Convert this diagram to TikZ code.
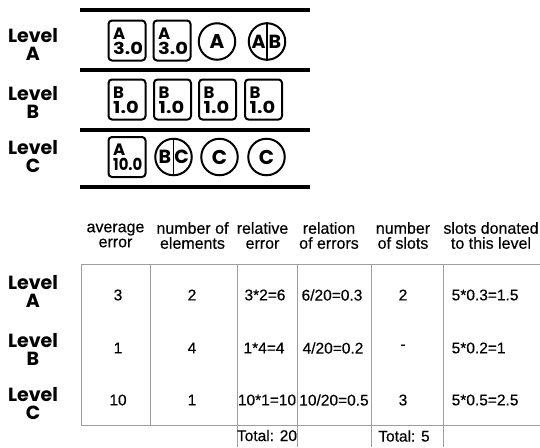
\documentclass[tikz,border=0pt]{standalone}
\usepackage{fontspec}
\setmainfont{Liberation Sans}[FakeBold=0.35]
\newfontfamily\lvfont{Poppins}
\usetikzlibrary{calc}
\tikzset{
  lvl/.style={font=\lvfont\bfseries\fontsize{19}{18}\selectfont, align=center, inner sep=0pt},
  shelf/.style={line width=4pt, draw=black},
  elbox/.style={draw=black, line width=2pt, rounded corners=3.5pt, minimum width=37pt, minimum height=40pt, inner sep=0pt},
  eltxt/.style={font=\lvfont\bfseries\fontsize{16.5}{16}\selectfont, inner sep=0pt, anchor=base west},
  elcirc/.style={draw=black, line width=2pt, circle, minimum size=36.5pt, inner sep=0pt, font=\lvfont\bfseries\fontsize{20}{20}\selectfont},
  half/.style={font=\lvfont\bfseries\fontsize{19}{19}\selectfont, inner sep=0pt},
  grid/.style={draw=black!38, line width=1pt},
  hd/.style={font=\fontsize{16}{15}\selectfont, align=center, inner sep=0pt},
  val/.style={font=\fontsize{15.5}{15.5}\selectfont, inner sep=0pt}
}
% element box with its level letter and error value (y grows downwards)
\newcommand\elem[4]{%
  \node[elbox] (#1) at (#2) {};
  \node[eltxt] (#1l) at ($(#1.north west)+(5.5,19.5)$) {#3};
  \node[eltxt] (#1v) at ($(#1.north west)+(5.5,34.5)$) {#4};
}
\begin{document}
\begin{tikzpicture}[x=1pt, y=-1pt]
\useasboundingbox (0,0) rectangle (540,447);

% ---------- shelves ----------
\coordinate (s1l) at (80,10);  \coordinate (s1r) at (310,10);
\coordinate (s2l) at (80,70);  \coordinate (s2r) at (310,70);
\coordinate (s3l) at (80,130); \coordinate (s3r) at (310,130);
\coordinate (s4l) at (80,187); \coordinate (s4r) at (310,187);
\draw[shelf] (s1l) -- (s1r);
\draw[shelf] (s2l) -- (s2r);
\draw[shelf] (s3l) -- (s3r);
\draw[shelf] (s4l) -- (s4r);

\node[lvl] (la) at (33,44) {Level\\A};
\node[lvl] (lb) at (33,102) {Level\\B};
\node[lvl] (lc) at (33,157) {Level\\C};

% ---------- level A ----------
\elem{a1}{127,40.5}{A}{\scalebox{1.18}[1]{3.0}}
\elem{a2}{172,40.5}{A}{\scalebox{1.18}[1]{3.0}}
\node[elcirc] (a3) at (217,41.5) {A};
\node[elcirc] (a4) at (267,41.5) {};
\draw[line width=1.6pt] (a4.north) -- (a4.south);
\node[half] (a4l) at ($(a4.center)+(-8.5,0)$) {A};
\node[half] (a4r) at ($(a4.center)+(8,0)$) {B};

% ---------- level B ----------
\elem{b1}{127,99.5}{B}{\scalebox{1.18}[1]{1.0}}
\elem{b2}{172.5,99.5}{B}{\scalebox{1.18}[1]{1.0}}
\elem{b3}{217.5,99.5}{B}{\scalebox{1.18}[1]{1.0}}
\elem{b4}{263.5,99.5}{B}{\scalebox{1.18}[1]{1.0}}

% ---------- level C ----------
\elem{c1}{127,157}{A}{\scalebox{0.9}[1]{10.0}}
\node[elcirc] (c2) at (173.5,157) {};
\draw[line width=1.6pt] (c2.north) -- (c2.south);
\node[half] (c2l) at ($(c2.center)+(-8.5,0)$) {B};
\node[half] (c2r) at ($(c2.center)+(8,0)$) {C};
\node[elcirc] (c3) at (219.5,157) {C};
\node[elcirc] (c4) at (266.5,157) {C};

% ---------- table ----------
\coordinate (t0) at (81,264);   \coordinate (t0r) at (540,264);
\coordinate (b0) at (81,425);   \coordinate (b0r) at (540,425);
\draw[grid] (t0) -- (t0r);
\draw[grid] (b0) -- (b0r);
\foreach \x in {81,150,237,297,371,443} {
  \draw[grid] (\x,264) -- (\x,425);
}
\foreach \x in {237,297,371,443} {
  \draw[grid] (\x,425) -- (\x,447);
}

\node[hd] (h1) at (115.5,235.5) {average\\error};
\node[hd] (h2) at (192.5,235.5) {number of\\elements};
\node[hd] (h3) at (262.5,235.5) {relative\\error};
\node[hd] (h4) at (329,235.5) {relation\\of errors};
\node[hd] (h5) at (403,235.5) {number\\of slots};
\node[hd] (h6) at (491,235.5) {slots donated\\to this level};

\node[lvl] (ta) at (33,291) {Level\\A};
\node[lvl] (tb) at (33,349) {Level\\B};
\node[lvl] (tc) at (33,404) {Level\\C};

\node[val] (ra1) at (118,295) {3};
\node[val] (ra2) at (192,295) {2};
\node[val] (ra3) at (265,295) {3*2=6};
\node[val] (ra4) at (332,295) {6/20=0.3};
\node[val] (ra5) at (403,295) {2};
\node[val, anchor=west] (ra6) at (451.5,295) {5*0.3=1.5};

\node[val] (rb1) at (118,348) {1};
\node[val] (rb2) at (192,348) {4};
\node[val] (rb3) at (264,348) {1*4=4};
\node[val] (rb4) at (333,348) {4/20=0.2};
\node[val] (rb5) at (403,347) {-};
\node[val, anchor=west] (rb6) at (451.5,348) {5*0.2=1};

\node[val] (rc1) at (118,400) {10};
\node[val] (rc2) at (192,400) {1};
\node[val] (rc3) at (267,400) {10*1=10};
\node[val] (rc4) at (334,400) {10/20=0.5};
\node[val] (rc5) at (403,400) {3};
\node[val, anchor=west] (rc6) at (451.5,400) {5*0.5=2.5};

\node[val] (tot1) at (267,435.5) {Total: 20};
\node[val] (tot2) at (404,436) {Total: 5};
\end{tikzpicture}
\end{document}
